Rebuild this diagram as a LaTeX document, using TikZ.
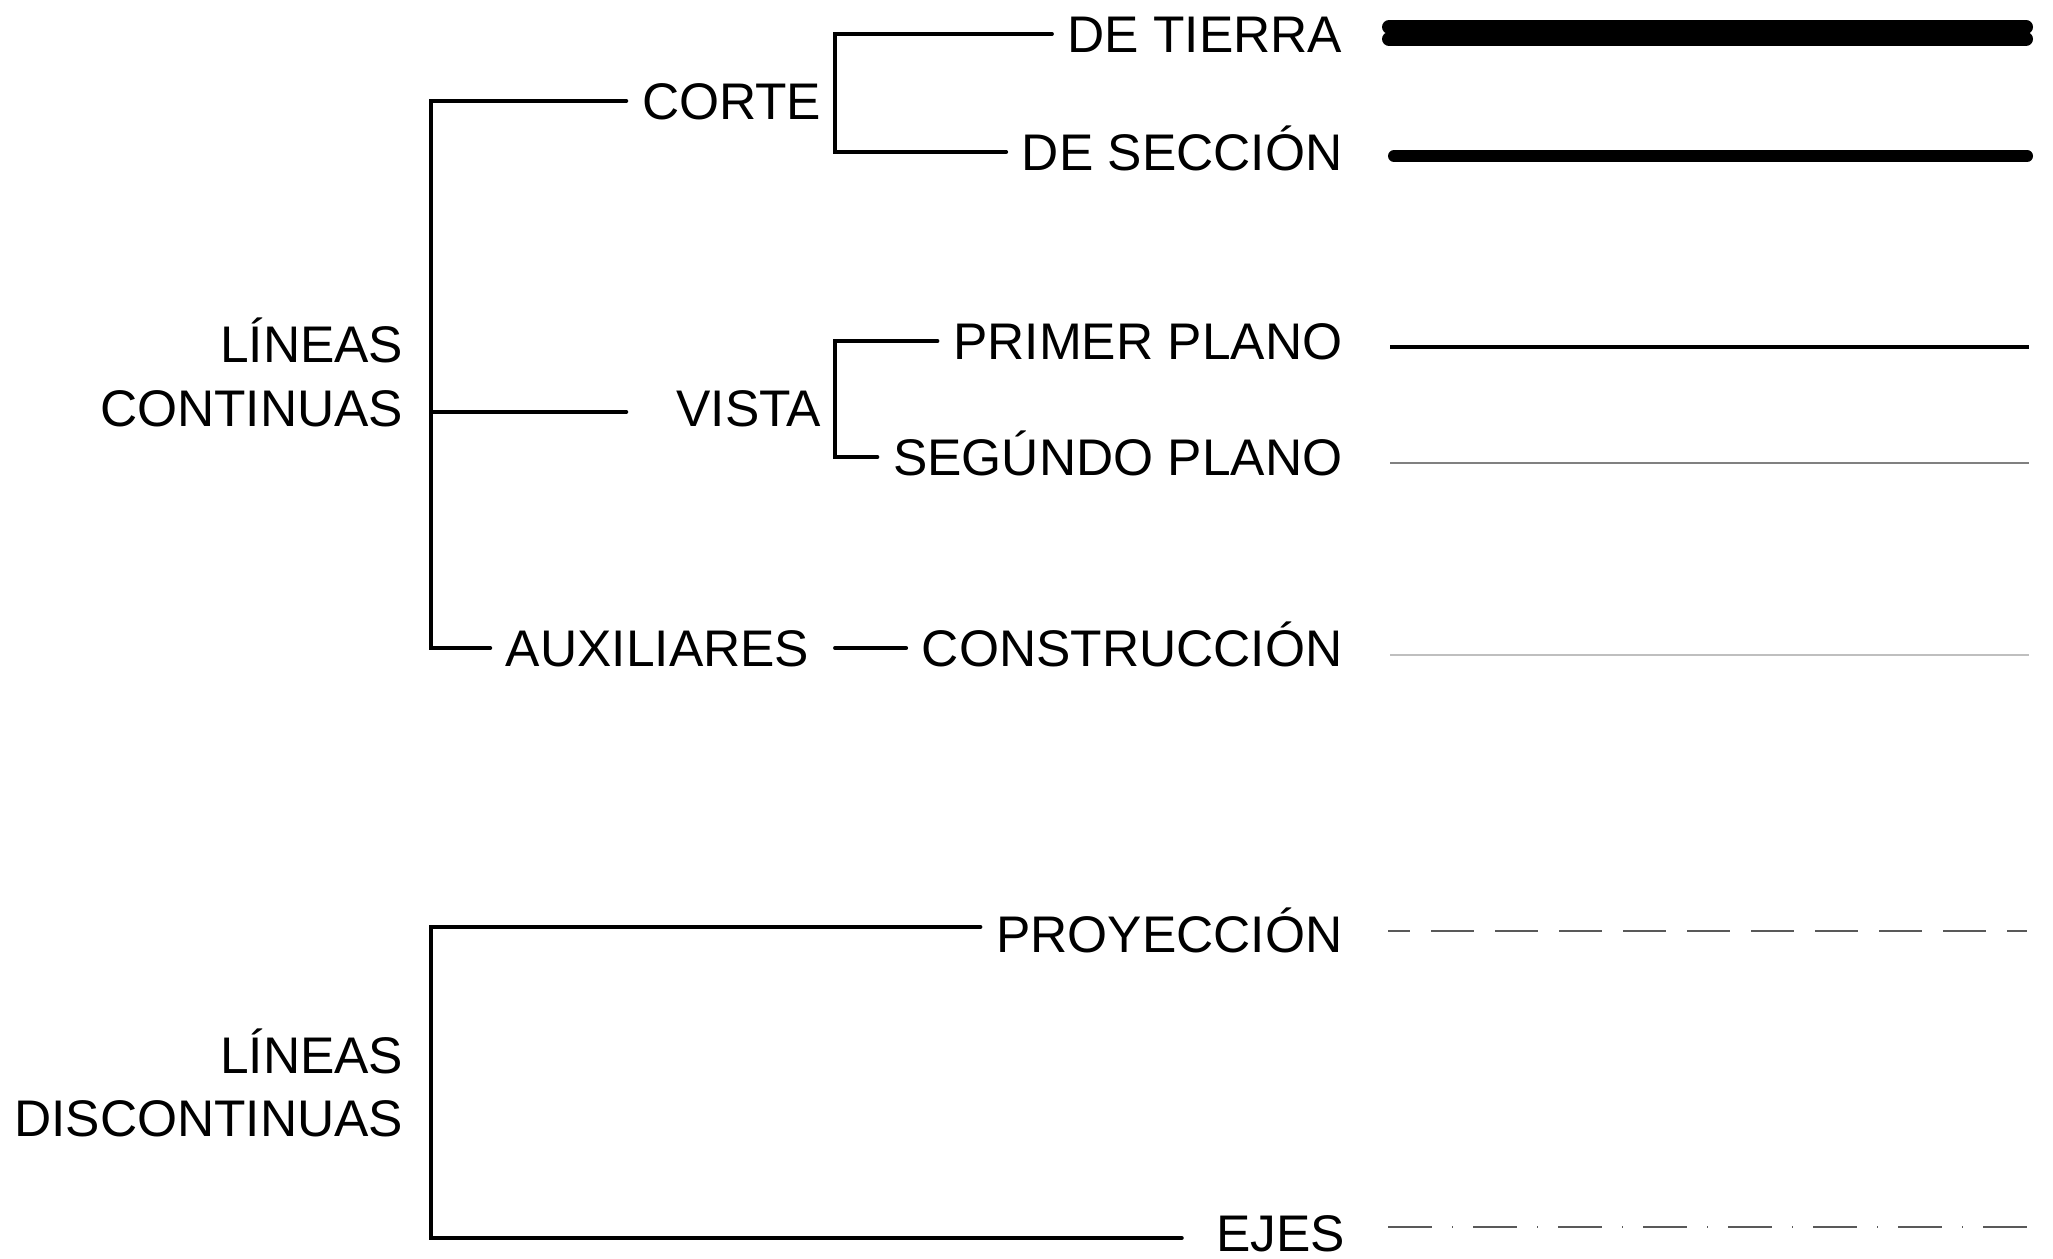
\documentclass[tikz,border=0pt]{standalone}
\usepackage{fontspec}
\setmainfont{Liberation Sans}
\usetikzlibrary{calc}

\begin{document}
\begin{tikzpicture}[
  lbl/.style={font=\fontsize{14.65pt}{17pt}\selectfont,anchor=east,inner xsep=1.5mm,inner ysep=0pt,text height=3.7mm,text depth=0pt},
  branch/.style={line width=1.1pt,line cap=round},
  sample/.style={line cap=round}]
  \useasboundingbox (0,0) rectangle (20.53,12.58);
  % Continuous lines
  \node[lbl] (lc1) at (4.19,9.14) {LÍNEAS};
  \node[lbl] (lc2) at (4.19,8.50) {CONTINUAS};
  \node[lbl] (corte) at (8.37,11.57) {CORTE};
  \node[lbl] (vista) at (8.37,8.50) {VISTA};
  \node[lbl] (aux) at (8.25,6.10) {AUXILIARES};
  \node[lbl] (tierra) at (13.58,12.24) {DE TIERRA};
  \node[lbl] (seccion) at (13.58,11.06) {DE SECCIÓN};
  \node[lbl] (primer) at (13.58,9.17) {PRIMER PLANO};
  \node[lbl] (segundo) at (13.58,8.01) {SEGÚNDO PLANO};
  \node[lbl] (constr) at (13.58,6.10) {CONSTRUCCIÓN};
  \coordinate (sp1) at (4.31,0);
  \coordinate (sp2) at (8.35,0);
  \coordinate (jv) at (4.31,8.46);
  \draw[branch] (corte.west) -| (sp1 |- aux) -- (aux.west);
  \draw[branch] (jv) -- (jv -| corte.west);
  \draw[branch] (tierra.west) -| (sp2 |- seccion) -- (seccion.west);
  \draw[branch] (primer.west) -| (sp2 |- segundo) -- (segundo.west);
  \draw[branch] (aux.east -| sp2) -- (constr.west);
  % Dashed lines
  \node[lbl] (ld1) at (4.19,2.03) {LÍNEAS};
  \node[lbl] (ld2) at (4.19,1.40) {DISCONTINUAS};
  \node[lbl] (proy) at (13.58,3.24) {PROYECCIÓN};
  \node[lbl] (ejes) at (13.61,0.25) {EJES};
  \draw[branch] ([yshift=0.07cm]proy.west) -| ($(sp1 |- ejes)+(0,-0.05)$) -- ([xshift=-1.9mm,yshift=-0.05cm]ejes.west);
  % Line samples
  \draw[sample,line width=0.14cm] (13.89,12.31) -- (20.26,12.31);
  \draw[sample,line width=0.14cm] (13.89,12.19) -- (20.26,12.19);
  \draw[sample,line width=0.12cm] (13.94,11.02) -- (20.27,11.02);
  \draw[line width=0.035cm] (13.90,9.11) -- (20.29,9.11);
  \draw[line width=0.02cm,black!50] (13.90,7.95) -- (20.29,7.95);
  \draw[line width=0.02cm,black!25] (13.90,6.03) -- (20.29,6.03);
  \draw[line width=0.025cm,black!65,dash pattern=on 0.43cm off 0.21cm,dash phase=0.21cm] (13.88,3.27) -- (20.27,3.27);
  \draw[line width=0.025cm,black!65,dash pattern=on 0.44cm off 0.2cm on 0.01cm off 0.2cm] (13.88,0.31) -- (20.27,0.31);
\end{tikzpicture}
\end{document}
